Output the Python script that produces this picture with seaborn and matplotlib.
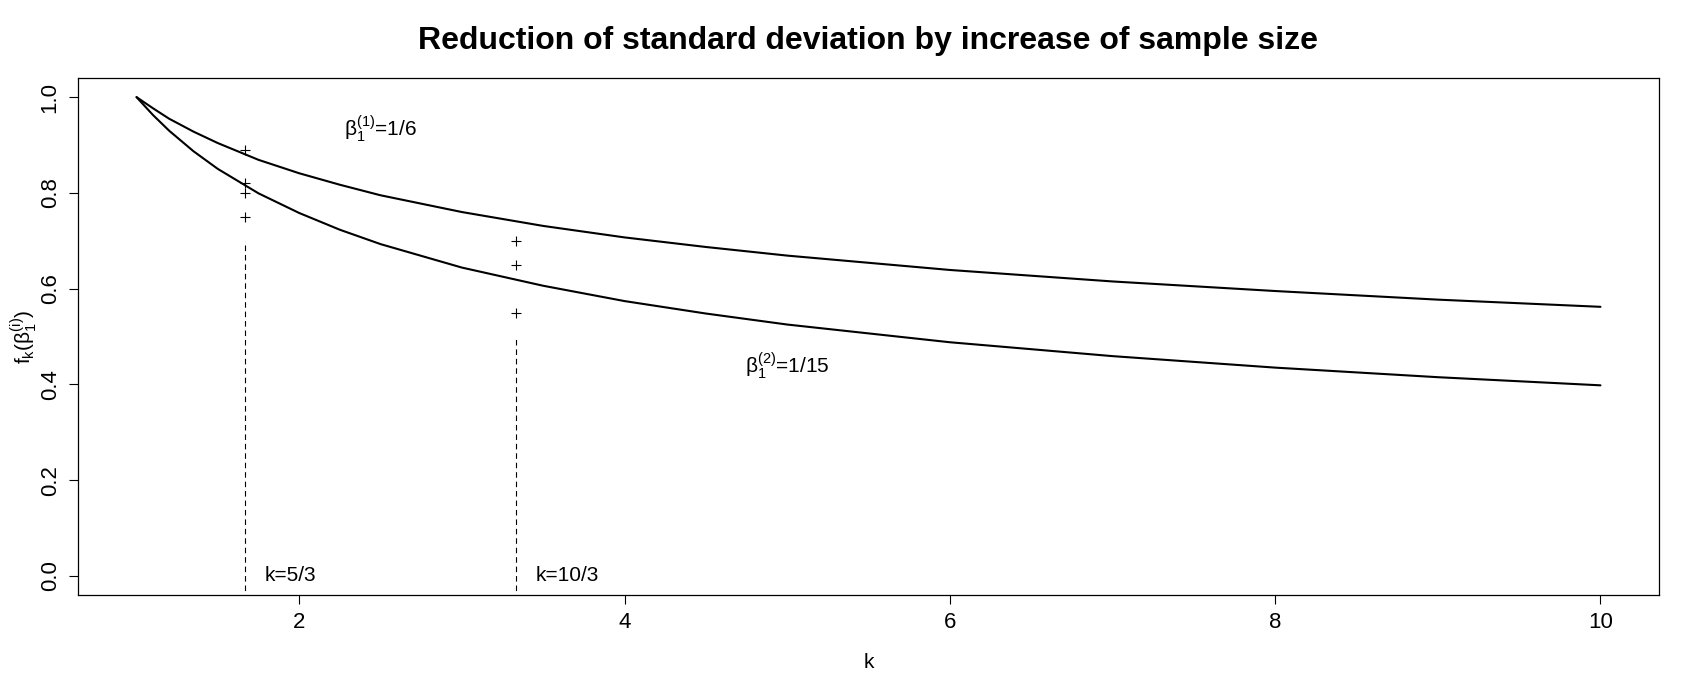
import matplotlib
matplotlib.use("Agg")
import matplotlib.pyplot as plt
import seaborn as sns
import pandas as pd

# --- data ---
k_vals = [1.0, 1.1, 1.2, 1.35, 1.5, 1.75, 2.0, 2.25, 2.5, 3.0, 3.5,
          4.0, 4.5, 5.0, 6.0, 7.0, 8.0, 9.0, 10.0]
f_beta1 = [1.000, 0.977, 0.955, 0.928, 0.904, 0.869, 0.841, 0.817, 0.795,
           0.760, 0.731, 0.707, 0.687, 0.669, 0.639, 0.615, 0.595, 0.577, 0.562]
f_beta2 = [1.000, 0.963, 0.930, 0.887, 0.850, 0.799, 0.758, 0.723, 0.693,
           0.644, 0.606, 0.574, 0.548, 0.525, 0.488, 0.459, 0.435, 0.415, 0.398]

mark_k = [5/3, 5/3, 5/3, 5/3, 10/3, 10/3, 10/3]
mark_y = [0.89, 0.82, 0.80, 0.75, 0.70, 0.65, 0.55]

vline_k = [5/3, 10/3]
vline_top = [0.70, 0.50]
vline_text = ["k=5/3", "k=10/3"]

curve_labels = [r"$\mathregular{\beta_1^{(1)}}$=1/6", r"$\mathregular{\beta_1^{(2)}}$=1/15"]
label_k = [2.5, 5.0]
label_y = [0.935, 0.44]

x_ticks = [2, 4, 6, 8, 10]
y_ticks = [0.0, 0.2, 0.4, 0.6, 0.8, 1.0]

curves = pd.concat([
    pd.DataFrame({"k": k_vals, "f": f_beta1, "beta": "1/6"}),
    pd.DataFrame({"k": k_vals, "f": f_beta2, "beta": "1/15"}),
])

sns.set_style("white")
plt.rcParams["font.family"] = ["Liberation Sans", "DejaVu Sans"]
plt.rcParams["mathtext.fontset"] = "custom"
plt.rcParams["mathtext.rm"] = "Liberation Sans"
plt.rcParams["mathtext.it"] = "Liberation Sans:italic"
plt.rcParams["text.color"] = "black"
plt.rcParams["axes.labelcolor"] = "black"

fig = plt.figure(figsize=(17, 6.93), dpi=100)
ax = fig.add_axes([78 / 1700, 1 - 595 / 693, (1659 - 78) / 1700, (595 - 78) / 693])

sns.lineplot(data=curves, x="k", y="f", units="beta", estimator=None,
             color="black", linewidth=1.5, ax=ax, legend=False)
sns.scatterplot(x=mark_k, y=mark_y, marker="+", color="black", s=55,
                linewidth=0.8, ax=ax, legend=False)

for kk, top, txt in zip(vline_k, vline_top, vline_text):
    ax.plot([kk, kk], [-0.05, top], color="black", lw=0.8, ls=(0, (5, 3.5)))
    ax.text(kk + 0.12, 0.0, txt, ha="left", va="center", fontsize=15)

for lab, kk, yy in zip(curve_labels, label_k, label_y):
    ax.text(kk, yy, lab, ha="center", va="center", fontsize=15)

ax.set_xlim(0.64, 10.36)
ax.set_ylim(-0.04, 1.04)
ax.set_xticks(x_ticks)
ax.set_xticklabels([str(t) for t in x_ticks])
ax.set_yticks(y_ticks)
ax.set_yticklabels([f"{t:.1f}" for t in y_ticks], rotation=90, va="center")
ax.tick_params(axis="both", direction="out", length=6.5, width=0.8,
               labelsize=16, pad=6, bottom=True, left=True, colors="black")
for sp in ax.spines.values():
    sp.set_visible(True)
    sp.set_color("black")
    sp.set_linewidth(0.9)

ax.set_xlabel("k", fontsize=15)
ax.xaxis.set_label_coords(0.5, -(663 - 595) / (595 - 78))
ax.set_ylabel(r"$\mathregular{f_k(\beta_1^{(i)})}$", fontsize=15)
ax.yaxis.set_label_coords(-(78 - 24) / (1659 - 78), 0.5)
ax.yaxis.label.set_va("center")
ax.xaxis.label.set_va("center")

fig.text(868 / 1700, 1 - 41 / 693, "Reduction of standard deviation by increase of sample size",
         ha="center", va="center", fontsize=23, fontweight="bold", color="black")

fig.savefig("out.png", dpi=100)
